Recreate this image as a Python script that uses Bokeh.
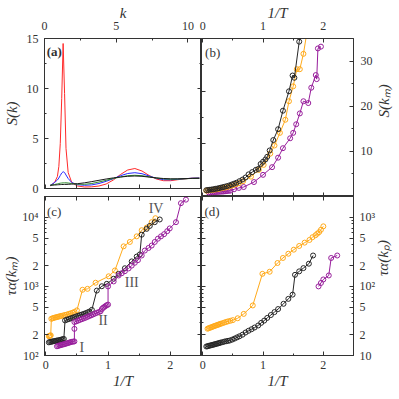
import math
from bokeh.plotting import figure
from bokeh.layouts import gridplot
from bokeh.models import (Range1d, LinearAxis, LogAxis, FixedTicker, Label,
                          CustomJSTickFormatter)
from bokeh.embed import file_html
from bokeh.resources import INLINE

FONT = "Liberation Serif"
GRAY = "#333333"

# ---------------- data ----------------
# (a) S(k)
k_vals = [0.4, 0.7, 0.9, 1.0, 1.1, 1.2, 1.3, 1.4, 1.5, 1.65, 1.9, 2.3, 2.8, 3.3, 3.8,
          4.3, 4.8, 5.3, 5.8, 6.3, 6.8, 7.3, 7.8, 8.3, 8.8, 9.3, 9.8, 10.3, 10.8]
sk_red = [0.26, 0.6, 1.2, 2.2, 4.5, 9.0, 14.5, 9.5, 4.0, 1.6, 0.6, 0.25, 0.15, 0.17, 0.25,
          0.45, 0.85, 1.4, 1.85, 2.0, 1.75, 1.3, 0.95, 0.78, 0.78, 0.88, 0.97, 1.03, 1.05]
sk_blue = [0.3, 0.6, 0.85, 1.05, 1.3, 1.55, 1.68, 1.6, 1.35, 1.0, 0.6, 0.38, 0.32, 0.36, 0.5,
           0.72, 0.98, 1.28, 1.5, 1.58, 1.48, 1.25, 1.02, 0.88, 0.87, 0.92, 0.98, 1.03, 1.05]
sk_green = [0.32, 0.4, 0.46, 0.5, 0.53, 0.55, 0.56, 0.57, 0.57, 0.55, 0.5, 0.43, 0.42, 0.5, 0.65,
            0.82, 1.0, 1.15, 1.28, 1.32, 1.28, 1.17, 1.05, 0.96, 0.93, 0.94, 0.97, 1.01, 1.03]
sk_black = [0.33, 0.35, 0.37, 0.38, 0.39, 0.4, 0.4, 0.41, 0.41, 0.42, 0.44, 0.48, 0.57, 0.69, 0.82,
            0.95, 1.06, 1.15, 1.22, 1.25, 1.22, 1.14, 1.06, 1.0, 0.97, 0.97, 0.99, 1.01, 1.02]

# (b) S(k_m) vs 1/T
b_black_x = [0.06, 0.09, 0.12, 0.15, 0.18, 0.21, 0.24, 0.27, 0.30, 0.33, 0.36, 0.40, 0.44, 0.48,
             0.52, 0.56, 0.61, 0.66, 0.71, 0.76, 0.82, 0.88, 0.92, 0.96, 1.00, 1.04, 1.07, 1.11,
             1.17, 1.25, 1.33, 1.43, 1.49, 1.52, 1.60, 1.68]
b_black_y = [1.4, 1.45, 1.5, 1.55, 1.6, 1.7, 1.75, 1.85, 1.95, 2.05, 2.15, 2.3, 2.45, 2.65,
             2.85, 3.05, 3.4, 3.75, 4.2, 4.9, 5.4, 5.9, 6.1, 7.2, 7.7, 8.2, 8.8, 10.2,
             12.5, 14.9, 19.0, 23.3, 26.8, 26.3, 34.3, 40.0]
b_orange_x = [0.06, 0.09, 0.12, 0.15, 0.18, 0.21, 0.24, 0.27, 0.30, 0.34, 0.38, 0.42, 0.46, 0.50,
              0.55, 0.60, 0.67, 0.80, 0.93, 1.01, 1.12, 1.19, 1.28, 1.37, 1.43, 1.50, 1.56, 1.61,
              1.67, 1.76]
b_orange_y = [1.3, 1.35, 1.4, 1.45, 1.5, 1.55, 1.6, 1.7, 1.8, 1.9, 2.0, 2.15, 2.3, 2.5,
              2.7, 2.95, 3.4, 4.4, 5.9, 7.0, 9.5, 11.3, 14.1, 17.0, 21.1, 24.4, 28.2, 28.2,
              31.6, 39.0]
b_purple_x = [0.10, 0.13, 0.16, 0.19, 0.22, 0.25, 0.28, 0.31, 0.34, 0.37, 0.40, 0.43, 0.46,
              0.52, 0.60, 0.68, 0.85, 1.00, 1.15, 1.25, 1.33, 1.45, 1.50, 1.55, 1.61, 1.67,
              1.75, 1.80, 1.875, 1.89, 1.91, 1.96]
b_purple_y = [0.9, 0.92, 0.95, 0.98, 1.0, 1.02, 1.05, 1.08, 1.1, 1.15, 1.2, 1.25, 1.3,
              1.6, 1.9, 2.1, 3.2, 4.8, 6.5, 8.6, 10.7, 12.9, 14.1, 16.0, 18.4, 21.1,
              20.7, 24.1, 26.9, 26.0, 32.8, 33.2]

# (c) tau_alpha(k_m) vs 1/T
c_orange_x = [0.05, 0.06, 0.07, 0.08, 0.09, 0.11, 0.13, 0.15, 0.17, 0.19, 0.21, 0.23, 0.25,
              0.28, 0.31, 0.34, 0.37, 0.40, 0.43, 0.46, 0.50, 0.59, 0.67, 0.80, 1.01, 1.11,
              1.25, 1.35, 1.46, 1.54, 1.62, 1.70, 1.76]
c_orange_y = [190, 192, 194, 196, 340, 345, 350, 355, 358, 362, 366, 370, 374,
              380, 386, 392, 400, 408, 416, 428, 450, 893, 922, 1130, 1400, 1700,
              3800, 4400, 5300, 6500, 7100, 8500, 9700]
c_black_x = [0.05, 0.07, 0.09, 0.11, 0.13, 0.15, 0.17, 0.19, 0.21, 0.23, 0.25, 0.27, 0.29,
             0.31, 0.34, 0.37, 0.40, 0.43, 0.46, 0.49, 0.52, 0.55, 0.58, 0.61, 0.64, 0.67,
             0.70, 0.74, 0.82, 0.90, 0.98, 1.09, 1.17, 1.27, 1.38, 1.46, 1.51, 1.54, 1.62,
             1.67, 1.75, 1.83]
c_black_y = [155, 157, 158, 160, 161, 162, 164, 165, 166, 168, 170, 172, 174,
             322, 330, 337, 344, 352, 360, 368, 376, 384, 392, 400, 410, 420,
             432, 458, 870, 1005, 1090, 1290, 1520, 1830, 2300, 2700, 2900, 5600, 6800,
             7500, 8500, 9300]
c_purple_x = [0.18, 0.20, 0.22, 0.24, 0.26, 0.28, 0.30, 0.32, 0.34, 0.36, 0.38, 0.40, 0.42,
              0.44, 0.46, 0.46, 0.46, 0.49, 0.52, 0.55, 0.58, 0.61, 0.64, 0.67, 0.70, 0.73,
              0.76, 0.79, 0.82, 0.85, 0.88, 0.90, 0.92, 0.94, 0.96, 0.98, 1.00, 1.00, 1.09,
              1.17, 1.22, 1.27, 1.33, 1.38, 1.43, 1.48, 1.54, 1.59, 1.65, 1.70, 1.75, 1.80,
              1.85, 1.90, 1.95, 1.99, 2.09, 2.17, 2.25]
c_purple_y = [136, 138, 140, 141, 143, 145, 146, 148, 150, 152, 154, 156, 158,
              159, 160, 243, 305, 312, 320, 328, 336, 344, 352, 362, 372, 382,
              393, 404, 415, 425, 436, 470, 490, 505, 520, 535, 545, 1000, 1180,
              1440, 1550, 1660, 1820, 2000, 2200, 2400, 2800, 3300, 3600, 3900, 4400, 4900,
              5300, 5700, 6300, 6900, 8500, 16000, 18000]

# (d) tau_alpha(k_p) vs 1/T
d_orange_x = [0.08, 0.10, 0.12, 0.14, 0.16, 0.18, 0.20, 0.22, 0.24, 0.26, 0.28, 0.30, 0.33,
              0.36, 0.39, 0.42, 0.46, 0.50, 0.58, 0.68, 0.83, 0.99, 1.11, 1.24, 1.33, 1.42,
              1.51, 1.60, 1.69, 1.77, 1.82, 1.87, 1.90, 1.93, 1.96, 2.00]
d_orange_y = [24.4, 24.8, 25.2, 25.6, 26.0, 26.4, 26.8, 27.2, 27.6, 28.0, 28.4, 28.8, 29.4,
              30.0, 30.6, 31.2, 31.8, 32.5, 34.6, 40, 53, 152, 163, 218, 258, 297,
              340, 385, 430, 470, 515, 550, 580, 610, 660, 740]
d_black_x = [0.06, 0.08, 0.10, 0.12, 0.14, 0.16, 0.18, 0.20, 0.22, 0.24, 0.26, 0.28, 0.30,
             0.33, 0.36, 0.39, 0.42, 0.45, 0.49, 0.53, 0.57, 0.61, 0.66, 0.71, 0.76, 0.81,
             0.86, 0.92, 0.97, 1.02, 1.07, 1.13, 1.19, 1.25, 1.34, 1.42, 1.49, 1.53, 1.60,
             1.67, 1.76, 1.83]
d_black_y = [13.5, 13.6, 13.8, 13.9, 14.1, 14.2, 14.4, 14.5, 14.7, 14.9, 15.0, 15.2, 15.4,
             15.6, 15.9, 16.1, 16.3, 16.5, 17.0, 17.6, 18.3, 19.0, 20.0, 21.5, 22.8, 24.0,
             25.4, 27.2, 29.7, 32, 35, 38.5, 42.5, 47, 56, 66, 76, 147, 165,
             184, 213, 280]
d_purple_x = [1.92, 1.96, 2.00, 2.09, 2.13, 2.23]
d_purple_y = [100, 112, 126, 144, 258, 280]

regime_labels = ["I", "II", "III", "IV"]
regime_x = [0.58, 0.92, 1.38, 1.77]
regime_y = [132, 321, 1130, 13300]

# tick labels
k_ticks = [0, 5, 10]
sk_ticks = [0, 5, 10, 15]
skm_ticks = [10, 20, 30]
invT_ticks = [0, 1, 2]
c_lab = {100: "10²", 200: "2", 500: "5", 1000: "10³", 2000: "2", 5000: "5", 10000: "10⁴"}
d_lab = {10: "10", 20: "2", 50: "5", 100: "10²", 200: "2", 500: "5", 1000: "10³"}

ORANGE = "#FFAA1A"
PURPLE = "#981E9C"
BLACK = "#262626"

TICK_FS = "12px"
LABEL_FS = "15px"
OVER = 8   # px by which neighbouring canvases overlap, so shared-edge tick labels are not cut


# ---------------- helpers ----------------
def style(ax, labels=True, lab_standoff=5, ax_standoff=3):
    ax.major_tick_in = 4
    ax.major_tick_out = 0
    ax.minor_tick_in = 2
    ax.minor_tick_out = 0
    ax.axis_line_color = GRAY
    ax.major_tick_line_color = GRAY
    ax.minor_tick_line_color = GRAY
    ax.major_label_text_font = FONT
    ax.axis_label_text_font = FONT
    ax.axis_label_text_font_style = "italic"
    ax.axis_label_text_color = GRAY
    ax.axis_label_text_font_size = LABEL_FS
    ax.axis_label_standoff = ax_standoff
    if labels:
        ax.major_label_text_color = GRAY
        ax.major_label_text_font_size = TICK_FS
        ax.major_label_standoff = lab_standoff
    else:
        ax.major_label_text_font_size = "0px"
        ax.major_label_text_color = None
        ax.major_label_standoff = 0
    return ax


def rotate_ccw(ax):
    try:
        ax.axis_label_orientation = math.pi / 2
    except Exception:
        pass


def mk(**kw):
    p = figure(toolbar_location=None, output_backend="svg", **kw)
    p.xgrid.visible = False
    p.ygrid.visible = False
    p.outline_line_color = GRAY
    p.background_fill_color = None
    p.border_fill_color = None
    return p


def log_fmt(labels):
    js = "const m = {" + ",".join(f"{k}:'{v}'" for k, v in labels.items()) + "};\n"
    js += "const v = m[Math.round(tick)]; return v === undefined ? '' : v;"
    return CustomJSTickFormatter(code=js)


XR = (-0.02, 2.5)
invT_all = [0, 0.5, 1, 1.5, 2]
invT_minor = [0.5, 1.5]
sk_minor = [2.5, 7.5, 12.5]
c_major = [100, 200, 500, 1000, 2000, 5000, 10000]
c_minor = [300, 400, 600, 700, 800, 900, 3000, 4000, 6000, 7000, 8000, 9000, 20000]
d_major = [10, 20, 50, 100, 200, 500, 1000]
d_minor = [30, 40, 60, 70, 80, 90, 300, 400, 600, 700, 800, 900, 2000]

# ---------------- panel (a) ----------------
pa = mk(frame_width=157, frame_height=158, x_range=Range1d(0, 10.95), y_range=Range1d(0, 15),
        x_axis_location="above", min_border_left=41, min_border_top=38,
        min_border_right=0, min_border_bottom=OVER, margin=(0, 0, -OVER, 0))
pa.xaxis.ticker = FixedTicker(ticks=k_ticks, minor_ticks=[2.5, 7.5])
pa.yaxis.ticker = FixedTicker(ticks=sk_ticks, minor_ticks=sk_minor)
pa.xaxis.axis_label = "k"
pa.yaxis.axis_label = "S(k)"
style(pa.xaxis[0], lab_standoff=9, ax_standoff=-2)
style(pa.yaxis[0], lab_standoff=6, ax_standoff=4)
pa.extra_x_ranges = {"invT": Range1d(*XR)}
pa.add_layout(style(LinearAxis(x_range_name="invT", ticker=FixedTicker(ticks=invT_all)), False), "below")
pa.add_layout(style(LinearAxis(ticker=FixedTicker(ticks=sk_ticks, minor_ticks=sk_minor)), False), "right")
for ys, col in [(sk_red, "#FF2A2A"), (sk_blue, "#2A2AFF"), (sk_green, "#2E8B2E"), (sk_black, "#1A1A1A")]:
    pa.line(k_vals, ys, line_color=col, line_width=1)
pa.add_layout(Label(x=0.15, y=13.7, text="(a)", text_font=FONT, text_font_size="13px",
                    text_font_style="bold", text_color=GRAY, text_baseline="middle"))

# ---------------- panel (b) ----------------
pb = mk(frame_width=160, frame_height=158, x_range=Range1d(*XR), y_range=Range1d(0, 35),
        x_axis_location="above", y_axis_location="right", min_border_left=OVER, min_border_top=38,
        min_border_right=40, min_border_bottom=0, margin=(0, 0, 0, -OVER))
pb.xaxis.ticker = FixedTicker(ticks=invT_ticks, minor_ticks=invT_minor)
pb.yaxis.ticker = FixedTicker(ticks=skm_ticks, minor_ticks=[5, 15, 25])
pb.xaxis.axis_label = "1/T"
pb.yaxis.axis_label = "S(kₘ)"
style(pb.xaxis[0], lab_standoff=9, ax_standoff=-2)
style(pb.yaxis[0], lab_standoff=7, ax_standoff=8)
rotate_ccw(pb.yaxis[0])
pb.extra_y_ranges = {"sk": Range1d(0, 15)}
pb.add_layout(style(LinearAxis(y_range_name="sk", ticker=FixedTicker(ticks=sk_ticks, minor_ticks=sk_minor)), False), "left")
pb.add_layout(style(LinearAxis(ticker=FixedTicker(ticks=invT_all)), False), "below")
for xs, ys, col in [(b_purple_x, b_purple_y, PURPLE), (b_orange_x, b_orange_y, ORANGE), (b_black_x, b_black_y, BLACK)]:
    pb.line(xs, ys, line_color=col, line_width=1)
    pb.scatter(xs, ys, marker="circle", size=5, fill_color=None, line_color=col, line_width=1)
pb.add_layout(Label(x=0.04, y=32, text="(b)", text_font=FONT, text_font_size="13px",
                    text_color=GRAY, text_baseline="middle"))

# ---------------- panel (c) ----------------
pc = mk(frame_width=157, frame_height=159, x_range=Range1d(*XR), y_range=Range1d(100, 20000),
        y_axis_type="log", min_border_left=41, min_border_top=0, min_border_right=0,
        min_border_bottom=43)
pc.xaxis.ticker = FixedTicker(ticks=[0, 1, 2], minor_ticks=invT_minor)
pc.yaxis.ticker = FixedTicker(ticks=c_major, minor_ticks=c_minor)
pc.yaxis.formatter = log_fmt(c_lab)
pc.xaxis.axis_label = "1/T"
pc.yaxis.axis_label = "τα(kₘ)"
style(pc.xaxis[0], lab_standoff=5, ax_standoff=1)
style(pc.yaxis[0], lab_standoff=6, ax_standoff=0)
pc.add_layout(style(LogAxis(ticker=FixedTicker(ticks=c_major, minor_ticks=c_minor)), False), "right")
pc.add_layout(style(LinearAxis(ticker=FixedTicker(ticks=invT_all)), False), "above")
for xs, ys, col in [(c_orange_x, c_orange_y, ORANGE), (c_black_x, c_black_y, BLACK), (c_purple_x, c_purple_y, PURPLE)]:
    pc.line(xs, ys, line_color=col, line_width=1)
    pc.scatter(xs, ys, marker="circle", size=5, fill_color=None, line_color=col, line_width=1)
for t, x, y in zip(regime_labels, regime_x, regime_y):
    pc.add_layout(Label(x=x, y=y, text=t, text_font=FONT, text_font_size="14px",
                        text_color="#555555", text_align="center", text_baseline="middle"))
pc.add_layout(Label(x=0.02, y=12250, text="(c)", text_font=FONT, text_font_size="13px",
                    text_color=GRAY, text_baseline="middle"))

# ---------------- panel (d) ----------------
pd_ = mk(frame_width=160, frame_height=159, x_range=Range1d(*XR), y_range=Range1d(10, 2000),
         y_axis_type="log", y_axis_location="right", min_border_left=OVER, min_border_top=0,
         min_border_right=40, min_border_bottom=43, margin=(0, 0, 0, -OVER))
pd_.xaxis.ticker = FixedTicker(ticks=invT_ticks, minor_ticks=invT_minor)
pd_.yaxis.ticker = FixedTicker(ticks=d_major, minor_ticks=d_minor)
pd_.yaxis.formatter = log_fmt(d_lab)
pd_.xaxis.axis_label = "1/T"
pd_.yaxis.axis_label = "τα(kₚ)"
style(pd_.xaxis[0], lab_standoff=5, ax_standoff=1)
style(pd_.yaxis[0], lab_standoff=6, ax_standoff=5)
rotate_ccw(pd_.yaxis[0])
pd_.add_layout(style(LogAxis(ticker=FixedTicker(ticks=d_major, minor_ticks=d_minor)), False), "left")
pd_.add_layout(style(LinearAxis(ticker=FixedTicker(ticks=invT_all)), False), "above")
for xs, ys, col in [(d_orange_x, d_orange_y, ORANGE), (d_black_x, d_black_y, BLACK), (d_purple_x, d_purple_y, PURPLE)]:
    pd_.line(xs, ys, line_color=col, line_width=1)
    pd_.scatter(xs, ys, marker="circle", size=5, fill_color=None, line_color=col, line_width=1)
pd_.add_layout(Label(x=0.03, y=1225, text="(d)", text_font=FONT, text_font_size="13px",
                     text_color=GRAY, text_baseline="middle"))

grid = gridplot([[pa, pb], [pc, pd_]], toolbar_location=None)
open("out.html", "w").write(file_html(grid, INLINE))
